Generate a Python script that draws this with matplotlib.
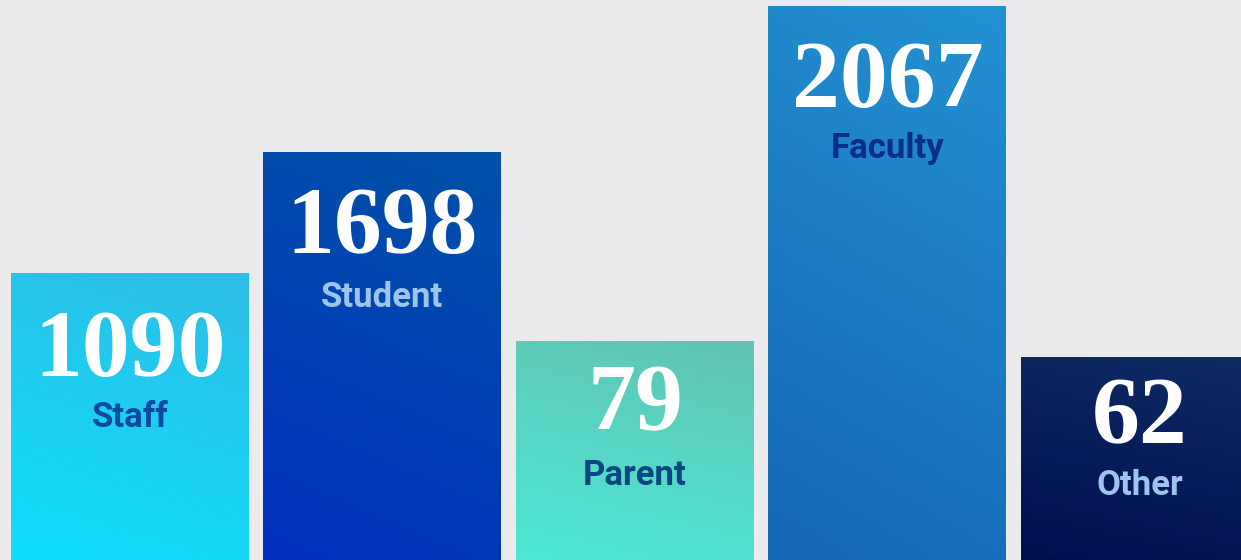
import numpy as np
import matplotlib.pyplot as plt
from matplotlib.colors import LinearSegmentedColormap
from matplotlib.patches import Rectangle

# displayed values and labels
categories = ['Staff', 'Student', 'Parent', 'Faculty', 'Other']
values = [1090, 1698, 79, 2067, 62]
# bar heights as drawn (not to scale with values), in pixels from bottom
bar_heights = [287, 408, 219, 554, 203]

# gradient colours (top-right, bottom-left)
top_colors = ['#2EBDE6', '#0052A8', '#62C4B2', '#2392D2', '#0E2C66']
bottom_colors = ['#0EDEFA', '#0030BE', '#4CE8D6', '#1466B6', '#000E4E']
label_colors = ['#0A4AA0', '#9CC4EC', '#0A4682', '#0A2C8C', '#9CC4EC']

# text baselines below the bar top (layout)
num_drop = [103, 101, 89, 101, 86]
lab_drop = [154, 155, 144, 152, 138]

bg = '#EBEBED'
W, H = 1241, 560
fig = plt.figure(figsize=(W / 100, H / 100), dpi=100, facecolor=bg)
ax = fig.add_axes([0, 0, 1, 1])
ax.set_facecolor(bg)

pitch = 252.5
width = 238
x0 = 130
ax.set_xlim(-x0 / pitch, (W - x0) / pitch)
ax.set_ylim(0, H)
ax.axis('off')

w = width / pitch
num_font = ['Liberation Serif', 'DejaVu Serif']
lab_font = ['Roboto', 'DejaVu Sans']

for i, (cat, val, h) in enumerate(zip(categories, values, bar_heights)):
    cmap = LinearSegmentedColormap.from_list(cat, [bottom_colors[i], top_colors[i]])
    gy, gx = np.mgrid[0:1:100j, 0:1:100j]
    grad = 0.8 * gy + 0.2 * gx
    left = i - w / 2
    im = ax.imshow(grad, cmap=cmap, origin='lower', aspect='auto',
                   extent=(left, left + w, 0, h), vmin=0, vmax=1, zorder=1)
    rect = Rectangle((left, 0), w, h, transform=ax.transData, facecolor='none', edgecolor='none')
    ax.add_patch(rect)
    im.set_clip_path(rect)
    ax.text(i, h - num_drop[i], str(val), ha='center', va='baseline', color='white',
            fontsize=69, fontweight='bold', family=num_font, zorder=3)
    ax.text(i, h - lab_drop[i], cat, ha='center', va='baseline', color=label_colors[i],
            fontsize=25, fontweight='bold', family=lab_font, zorder=3)

fig.savefig('out.png', dpi=100, facecolor=bg)
